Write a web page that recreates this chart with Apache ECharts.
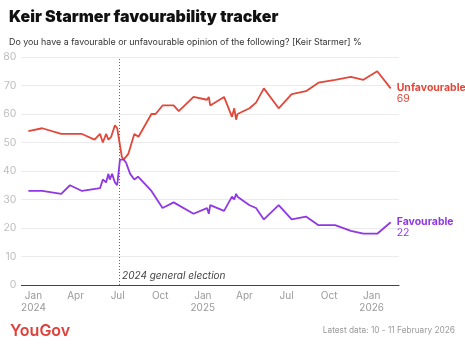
<!DOCTYPE html>
<html>
<head>
<meta charset="utf-8">
<script src="https://cdn.jsdelivr.net/npm/echarts@6/dist/echarts.min.js"></script>
<style>
  html, body { margin: 0; padding: 0; background: #fff; }
  #chart { width: 465px; height: 344px; }
</style>
</head>
<body>
<div id="chart"></div>
<script>
// Unfavourable opinion of Keir Starmer, % (fieldwork dates)
const unfavDates = [
  '2023-12-21', '2024-01-20', '2024-03-01', '2024-04-15', '2024-05-12', '2024-05-24',
  '2024-05-30', '2024-06-06', '2024-06-11', '2024-06-17', '2024-06-21', '2024-06-25',
  '2024-06-30', '2024-07-10', '2024-07-14', '2024-07-24', '2024-08-06', '2024-08-15',
  '2024-09-12', '2024-09-21', '2024-10-06', '2024-10-30', '2024-11-10', '2024-12-12',
  '2025-01-10', '2025-01-14', '2025-01-17', '2025-02-16', '2025-03-05', '2025-03-10',
  '2025-03-14', '2025-03-17', '2025-04-12', '2025-04-26', '2025-05-13', '2025-06-14',
  '2025-07-12', '2025-08-12', '2025-09-08', '2025-10-14', '2025-11-17', '2025-12-14',
  '2026-01-13', '2026-02-11'
];
const unfavValues = [
  54, 55, 53, 53, 51, 53,
  50, 53, 51, 52, 52, 56,
  55, 45, 44, 46, 53, 52,
  60, 60, 63, 63, 61, 66,
  65, 66, 63, 66, 59, 62,
  58, 60, 62, 64, 69, 62,
  67, 68, 71, 72, 73, 72,
  75, 69
];

// Favourable opinion of Keir Starmer, %
const favDates = [
  '2023-12-21', '2024-01-20', '2024-03-01', '2024-03-20', '2024-04-15', '2024-05-24',
  '2024-05-30', '2024-06-06', '2024-06-11', '2024-06-14', '2024-06-19', '2024-06-25',
  '2024-06-30', '2024-07-06', '2024-07-14', '2024-07-19', '2024-07-28', '2024-08-06',
  '2024-08-14', '2024-09-12', '2024-10-06', '2024-10-30', '2024-12-12', '2025-01-10',
  '2025-01-14', '2025-01-17', '2025-02-16', '2025-03-05', '2025-03-10', '2025-03-14',
  '2025-03-17', '2025-04-12', '2025-04-26', '2025-05-13', '2025-06-14', '2025-07-12',
  '2025-08-12', '2025-09-08', '2025-10-14', '2025-11-17', '2025-12-14', '2026-01-13',
  '2026-02-11'
];
const favValues = [
  33, 33, 32, 35, 33, 34,
  37, 36, 39, 37, 39, 36,
  35, 44, 44, 43, 39, 37,
  38, 33, 27, 29, 25, 27,
  25, 28, 26, 31, 30, 32,
  31, 28, 27, 23, 28, 23,
  24, 21, 21, 19, 18, 18,
  22
];

// Quarterly x-axis ticks
const tickDates = [
  '2024-01-01', '2024-04-01', '2024-07-01', '2024-10-01',
  '2025-01-01', '2025-04-01', '2025-07-01', '2025-10-01', '2026-01-01'
];
const tickLabels = [
  'Jan\n2024', 'Apr', 'Jul', 'Oct', 'Jan\n2025', 'Apr', 'Jul', 'Oct', 'Jan\n2026'
];

const electionDate = '2024-07-04';
const electionLabel = '2024 general election';

const RED = '#e2483a';
const PURPLE = '#9038e4';
const FONT = 'Inter, "Noto Sans", sans-serif';

const ts = d => new Date(d + 'T00:00:00Z').getTime();
const tickTimes = tickDates.map(ts);
const labelByTime = {};
tickTimes.forEach((t, i) => { labelByTime[t] = tickLabels[i]; });

const toPairs = (dates, values) => dates.map((d, i) => [ts(d), values[i]]);

const endLabel = color => ({
  show: true,
  distance: 6,
  offset: [0, 5],
  formatter: p => '{n|' + p.seriesName + '}\n{v|' + p.value[1] + '}',
  rich: {
    n: { color: color, fontFamily: FONT, fontWeight: 'bold', fontSize: 10.5, lineHeight: 11 },
    v: { color: color, fontFamily: FONT, fontSize: 10.5, lineHeight: 11 }
  }
});

const chart = echarts.init(document.getElementById('chart'), null, { renderer: 'canvas' });

chart.setOption({
  animation: false,
  backgroundColor: '#fff',
  textStyle: { fontFamily: FONT },
  title: [
    {
      text: 'Keir Starmer favourability tracker',
      left: 4, top: 4,
      textStyle: { fontFamily: FONT, fontWeight: 900, fontSize: 16, color: '#111' }
    },
    {
      text: 'Do you have a favourable or unfavourable opinion of the following? [Keir Starmer] %',
      left: 4, top: 33,
      textStyle: { fontFamily: FONT, fontWeight: 'normal', fontSize: 8.9, color: '#333' }
    },
    {
      text: 'YouGov',
      left: 5, top: 318,
      textStyle: { fontFamily: FONT, fontWeight: 600, fontSize: 16, color: '#e0403a' }
    },
    {
      text: 'Latest data: 10 - 11 February 2026',
      right: 5, top: 322,
      textStyle: { fontFamily: FONT, fontWeight: 'normal', fontSize: 8.3, color: '#9a9a9a' }
    }
  ],
  grid: { left: 21, right: 66, top: 57, bottom: 59 },
  xAxis: {
    // dates as millisecond timestamps on a linear scale, labelled once per quarter
    type: 'value',
    min: ts('2023-12-06'),
    max: ts('2026-03-01'),
    axisLine: { show: true, lineStyle: { color: '#444', width: 1 } },
    axisTick: { show: false },
    splitLine: { show: false },
    axisLabel: {
      customValues: tickTimes,
      formatter: v => labelByTime[v] || '',
      color: '#999',
      fontFamily: FONT,
      fontSize: 10,
      lineHeight: 12,
      margin: 5,
      hideOverlap: false
    }
  },
  yAxis: {
    type: 'value',
    min: 0, max: 80, interval: 10,
    axisLine: { show: false },
    axisTick: { show: false },
    axisLabel: { color: '#bdbdbd', fontFamily: FONT, fontSize: 10.5, margin: 5 },
    splitLine: { lineStyle: { color: '#ebebeb', width: 1 } }
  },
  series: [
    {
      name: 'Unfavourable',
      type: 'line',
      data: toPairs(unfavDates, unfavValues),
      showSymbol: false,
      symbol: 'none',
      lineStyle: { color: RED, width: 1.8 },
      itemStyle: { color: RED },
      endLabel: endLabel(RED),
      markLine: {
        silent: true,
        symbol: ['none', 'none'],
        label: { show: false },
        lineStyle: { type: [1, 2], color: '#666', width: 1 },
        data: [{ xAxis: ts(electionDate) }]
      },
      markPoint: {
        silent: true,
        symbol: 'circle',
        symbolSize: 0,
        label: {
          show: true,
          position: 'right',
          distance: 3,
          formatter: electionLabel,
          fontFamily: FONT,
          fontStyle: 'italic',
          fontSize: 10,
          color: '#444'
        },
        data: [{ coord: [ts(electionDate), 3.3] }]
      }
    },
    {
      name: 'Favourable',
      type: 'line',
      data: toPairs(favDates, favValues),
      showSymbol: false,
      symbol: 'none',
      lineStyle: { color: PURPLE, width: 1.8 },
      itemStyle: { color: PURPLE },
      endLabel: endLabel(PURPLE)
    }
  ]
});
</script>
</body>
</html>
